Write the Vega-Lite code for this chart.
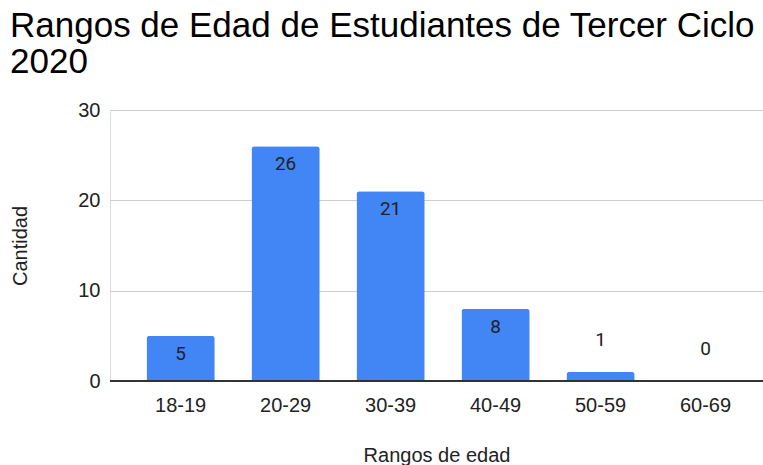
{
  "$schema": "https://vega.github.io/schema/vega-lite/v6.json",
  "autosize": "none",
  "width": 653,
  "height": 271,
  "padding": {"left": 110, "top": 110, "right": 0, "bottom": 84},
  "background": "white",
  "title": {
    "text": ["Rangos de Edad de Estudiantes de Tercer Ciclo", "2020"],
    "anchor": "start",
    "frame": "group",
    "font": "Liberation Sans",
    "fontSize": 35,
    "fontWeight": "normal",
    "color": "#000000",
    "lineHeight": 36,
    "dx": -100,
    "offset": 20
  },
  "data": {
    "values": [
      {"rango": "18-19", "cantidad": 5},
      {"rango": "20-29", "cantidad": 26},
      {"rango": "30-39", "cantidad": 21},
      {"rango": "40-49", "cantidad": 8},
      {"rango": "50-59", "cantidad": 1},
      {"rango": "60-69", "cantidad": 0}
    ]
  },
  "encoding": {
    "x": {
      "field": "rango",
      "type": "nominal",
      "sort": null,
      "scale": {"paddingInner": 0.35, "paddingOuter": 0.285, "align": 0.61},
      "axis": {
        "title": "Rangos de edad",
        "titleFont": "Liberation Sans",
        "titleFontSize": 20,
        "titleFontWeight": "normal",
        "titleColor": "#222222",
        "titlePadding": 30,
        "labelFont": "Liberation Sans",
        "labelFontSize": 20,
        "labelColor": "#222222",
        "labelAngle": 0,
        "labelPadding": 14,
        "ticks": false,
        "domain": false,
        "grid": false
      }
    },
    "y": {
      "field": "cantidad",
      "type": "quantitative",
      "scale": {"domain": [0, 30], "nice": false},
      "axis": {
        "title": "Cantidad",
        "titleFont": "Liberation Sans",
        "titleFontSize": 20,
        "titleFontWeight": "normal",
        "titleColor": "#222222",
        "titlePadding": 47,
        "labelFont": "Liberation Sans",
        "labelFontSize": 20,
        "labelColor": "#222222",
        "labelPadding": 10,
        "values": [0, 10, 20, 30],
        "ticks": false,
        "domain": false,
        "gridColor": "#cccccc",
        "gridWidth": 1
      }
    }
  },
  "layer": [
    {
      "mark": {"type": "bar", "color": "#4285F4", "cornerRadiusTopLeft": 3, "cornerRadiusTopRight": 3}
    },
    {
      "mark": {"type": "rule", "color": "#333333", "strokeWidth": 1.5},
      "encoding": {"y": {"datum": 0}, "x": {"value": 0}, "x2": {"value": 653}}
    },
    {
      "transform": [{"filter": "datum.cantidad >= 5"}],
      "mark": {"type": "text", "font": "Roboto", "fontSize": 19, "color": "#222222", "baseline": "middle", "dy": 18},
      "encoding": {"text": {"field": "cantidad", "type": "quantitative"}}
    },
    {
      "transform": [{"filter": "datum.cantidad < 5"}],
      "mark": {"type": "text", "font": "Roboto", "fontSize": 19, "color": "#222222", "baseline": "middle", "dy": -32},
      "encoding": {"text": {"field": "cantidad", "type": "quantitative"}}
    }
  ]
}
